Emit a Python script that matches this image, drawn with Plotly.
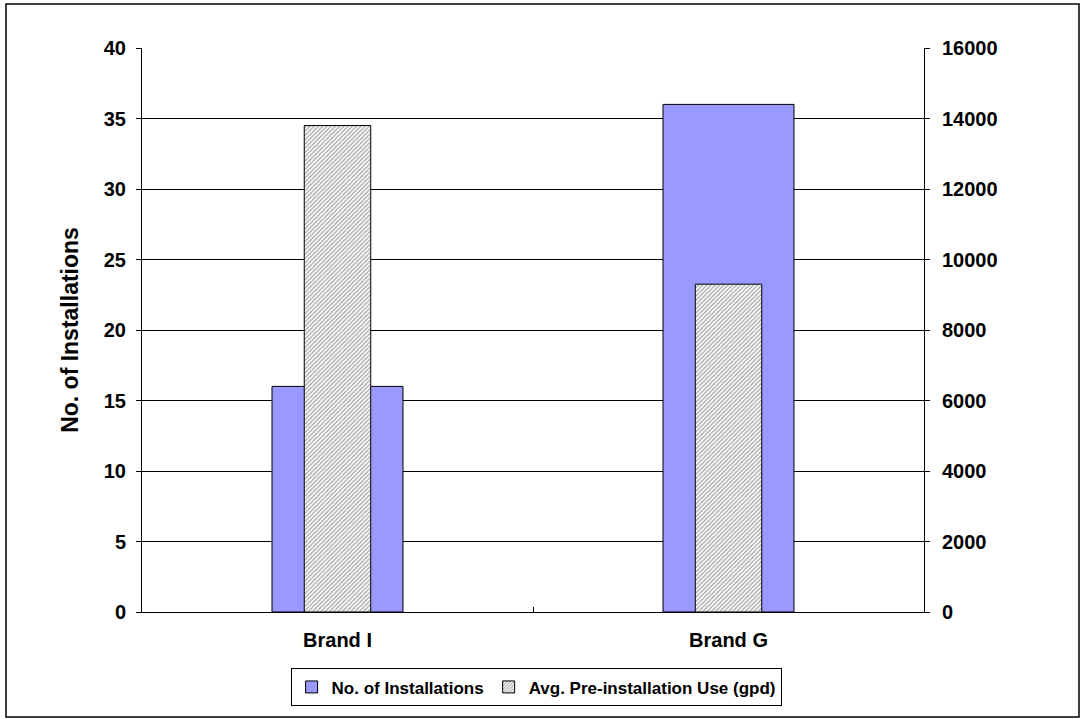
import plotly.graph_objects as go

categories = ["Brand I", "Brand G"]
installations = [16, 36]
avg_use_gpd = [13800, 9300]

font_family = "Liberation Sans, Arial, sans-serif"

fig = go.Figure()
fig.add_trace(go.Bar(
    x=categories, y=installations, name="No. of Installations",
    width=0.335, marker=dict(color="#9999FF", line=dict(color="#000000", width=1)),
    yaxis="y", offsetgroup="a",
))
fig.add_trace(go.Bar(
    x=categories, y=avg_use_gpd, name="Avg. Pre-installation Use (gpd)",
    width=0.17,
    marker=dict(color="#FFFFFF", line=dict(color="#000000", width=1),
                pattern=dict(shape="/", fgcolor="#555555", bgcolor="#FFFFFF",
                             size=3, solidity=0.45)),
    yaxis="y2", offsetgroup="a",
))

tick_font = dict(size=20, family=font_family, weight="bold", color="black")

fig.update_layout(
    width=1086, height=719,
    margin=dict(l=142, r=162, t=48, b=107),
    paper_bgcolor="white", plot_bgcolor="white",
    barmode="overlay",
    font=dict(family=font_family, size=16, color="black"),
    xaxis=dict(
        type="category", showline=True, linecolor="black", linewidth=1,
        ticks="inside", tickson="boundaries", ticklen=5, tickcolor="black",
        showgrid=False, tickfont=tick_font, ticklabelstandoff=10,
    ),
    yaxis=dict(
        range=[0, 40], dtick=5, showline=True, linecolor="black", linewidth=1,
        ticks="outside", ticklen=5, tickcolor="black",
        showgrid=True, gridcolor="black", gridwidth=1, zeroline=False,
        tickfont=tick_font, ticklabelstandoff=6,
        title=dict(text="No. of Installations", standoff=18,
                   font=dict(size=23, family=font_family, weight="bold")),
    ),
    yaxis2=dict(
        range=[0, 16000], dtick=2000, tickformat="d", overlaying="y", side="right",
        showline=True, linecolor="black", linewidth=1,
        ticks="outside", ticklen=5, tickcolor="black",
        showgrid=False, zeroline=False,
        tickfont=tick_font, ticklabelstandoff=8,
    ),
    legend=dict(
        orientation="h", x=0.19, y=-0.1, xanchor="left", yanchor="top",
        bordercolor="black", borderwidth=1, bgcolor="white",
        font=dict(size=17, family=font_family, weight="bold"),
        itemwidth=30, tracegroupgap=0,
    ),
    shapes=[dict(
        type="rect", xref="paper", yref="paper",
        x0=(6 - 142) / 782, x1=(1079 - 142) / 782,
        y0=(612 - 717) / 564, y1=(612 - 4) / 564,
        line=dict(color="black", width=1.5), fillcolor="rgba(0,0,0,0)", layer="below",
    )],
)

fig.write_html("out.html",
               config={"displayModeBar": False},
               post_script="document.body.style.margin='0';document.body.style.overflow='hidden';")
